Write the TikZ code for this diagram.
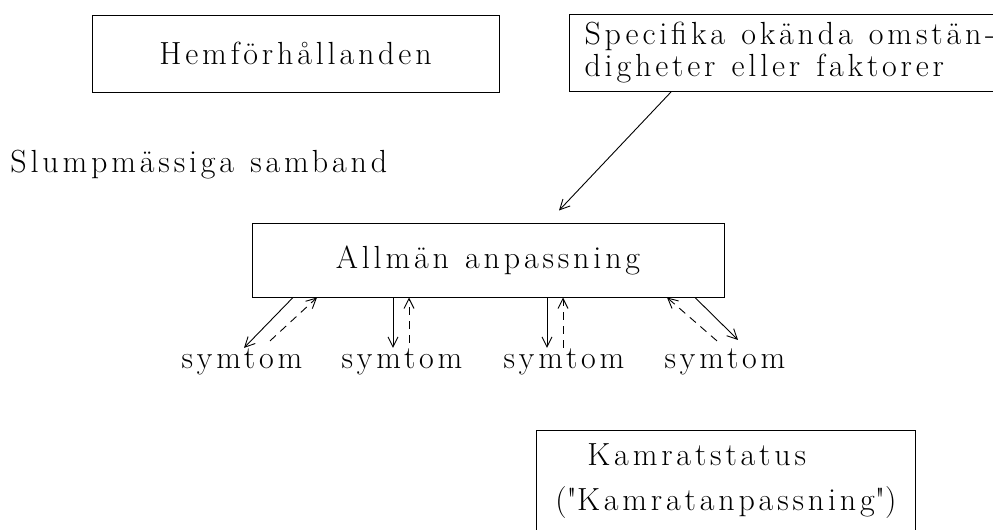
\documentclass[tikz,border=0pt]{standalone}
\usepackage{fontspec}
\setmainfont{Latin Modern Roman}[LetterSpace=12, WordSpace=1.2]
\usetikzlibrary{calc,arrows.meta}

\begin{document}
\begin{tikzpicture}[x=0.5pt, y=-0.5pt, font=\fontsize{16}{16}\selectfont, ruta/.style={rectangle, draw, line width=0.5pt}, pil/.style={-{Straight Barb[length=5pt,width=5pt]}, line width=0.45pt}, strpil/.style={pil, dash pattern=on 4pt off 3pt}]

    \useasboundingbox (0,0) rectangle (993,530);
    \clip (0,0) rectangle (993,530);

    \node[ruta, minimum width=203.5pt, minimum height=38.5pt] (hem) at (295.5,53.5) {Hemförhållanden};
    \node[ruta, anchor=north west, minimum width=215.5pt, minimum height=38.5pt, align=left, inner xsep=7.5pt] (spec) at (569,14) {Specifika okända omstän-\\digheter eller faktorer};
    \node[anchor=base west, inner sep=0pt] (slump) at (10,172) {Slumpmässiga samband};
    \node[ruta, minimum width=236pt, minimum height=37pt] (allm) at (488,260) {Allmän anpassning};

    \node[anchor=base, inner sep=0pt] (s1) at (242,368) {symtom};
    \node[anchor=base, inner sep=0pt] (s2) at (402,368) {symtom};
    \node[anchor=base, inner sep=0pt] (s3) at (564,368) {symtom};
    \node[anchor=base, inner sep=0pt] (s4) at (725,368) {symtom};

    \node[ruta, anchor=north west, minimum width=189.5pt, minimum height=65pt] (kam) at (536,430) {};
    \node[anchor=base west, inner sep=0pt] (kamstatus) at (587,465) {Kamratstatus};
    \node[anchor=base west, inner sep=0pt] (kamanp) at (555,510) {(\textquotedbl Kamratanpassning\textquotedbl)};

    \draw[pil] ($(spec.south west)+(102,0)$) -- ($(allm.north)+(71,-12)$);

    \draw[pil] ($(allm.south)+(-195,0)$) -- ($(s1.north)+(2,0)$);
    \draw[strpil] ($(s1.north)+(28,-7)$) -- ($(allm.south)+(-171,0)$);
    \draw[pil] ($(allm.south)+(-95,0)$) -- ($(s2.north)+(-9,0)$);
    \draw[strpil] ($(s2.north)+(7,-5)$) -- ($(allm.south)+(-79,0)$);
    \draw[pil] ($(allm.south)+(59,0)$) -- ($(s3.north)+(-17,0)$);
    \draw[strpil] ($(s3.north)+(-1,0)$) -- ($(allm.south)+(75,0)$);
    \draw[strpil] ($(s4.north)+(-8,-7)$) -- ($(allm.south)+(179,0)$);
    \draw[pil] ($(allm.south)+(207,0)$) -- ($(s4.north)+(13,-8)$);
  \end{tikzpicture}
\end{document}
